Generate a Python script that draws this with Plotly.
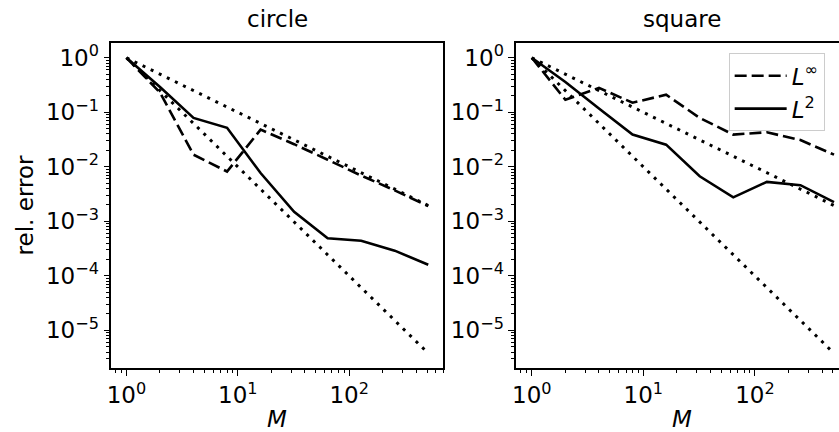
import plotly.graph_objects as go

M = [1, 2, 4, 8, 16, 32, 64, 128, 256, 512]
circle_Linf = [1, 0.23, 0.0167, 0.0082, 0.048, 0.026, 0.0135, 0.0069, 0.0037, 0.0019]
circle_L2 = [1, 0.29, 0.079, 0.052, 0.0077, 0.0015, 0.00049, 0.00044, 0.00029, 0.00016]
square_Linf = [1, 0.17, 0.28, 0.15, 0.21, 0.079, 0.039, 0.043, 0.031, 0.0167]
square_L2 = [1, 0.36, 0.117, 0.039, 0.0255, 0.0067, 0.00275, 0.0053, 0.0046, 0.00225]
ref_order1 = [1, 0.5, 0.25, 0.125, 0.0625, 0.03125, 0.0156, 0.0078, 0.0039, 0.00195]
ref_order2 = [1, 0.25, 0.0625, 0.0156, 0.0039, 0.00098, 0.00024, 6.1e-5, 1.5e-5, 3.8e-6]

x_tickvals = [1, 10, 100]
x_ticktext = ["10<sup>0</sup>", "10<sup>1</sup>", "10<sup>2</sup>"]
y_tickvals = [1, 1e-1, 1e-2, 1e-3, 1e-4, 1e-5]
y_ticktext = ["10<sup>0</sup>", "10<sup>\u22121</sup>", "10<sup>\u22122</sup>",
              "10<sup>\u22123</sup>", "10<sup>\u22124</sup>", "10<sup>\u22125</sup>"]
panel_titles = ["circle", "square"]
series_names = ["<i>L</i><sup>\u221e</sup>", "<i>L</i><sup>2</sup>"]

FONT = "DejaVu Sans"
FS = 23
W, H = 839, 432
TOP, BOT = 43, 368

fig = go.Figure()

panels = [(circle_Linf, circle_L2, "x", "y", False), (square_Linf, square_L2, "x2", "y2", True)]
for linf, l2, xa, ya, show in panels:
    for ref in (ref_order1, ref_order2):
        fig.add_trace(go.Scatter(x=M, y=ref, mode="lines", xaxis=xa, yaxis=ya,
                                 line=dict(color="black", width=3, dash="3px,6px"),
                                 showlegend=False, hoverinfo="skip"))
    fig.add_trace(go.Scatter(x=M, y=linf, mode="lines", xaxis=xa, yaxis=ya, name=series_names[0],
                             line=dict(color="black", width=2.6, dash="12px,5px"), showlegend=show))
    fig.add_trace(go.Scatter(x=M, y=l2, mode="lines", xaxis=xa, yaxis=ya, name=series_names[1],
                             line=dict(color="black", width=2.6), showlegend=show))

minor_x = [m * 10 ** e for e in range(-1, 3) for m in range(2, 10)]
minor_y = [m * 10.0 ** e for e in range(-6, 1) for m in range(2, 10)]

common_x = dict(type="log", tickmode="array", tickvals=x_tickvals, ticktext=x_ticktext,
                showgrid=False, zeroline=False, showline=True, linecolor="black", linewidth=1.5,
                ticks="outside", ticklen=6, tickwidth=1.3, tickcolor="black",
                tickfont=dict(family=FONT, size=FS, color="black"),
                minor=dict(tickmode="array", tickvals=minor_x, ticks="outside", ticklen=3.5,
                           tickwidth=1, tickcolor="black", showgrid=False))
common_y = dict(type="log", tickmode="array", tickvals=y_tickvals, ticktext=y_ticktext,
                range=[-5.69, 0.271],
                showgrid=False, zeroline=False, showline=True, linecolor="black", linewidth=1.5,
                ticks="outside", ticklen=6, tickwidth=1.3, tickcolor="black",
                tickfont=dict(family=FONT, size=FS, color="black"),
                minor=dict(tickmode="array", tickvals=minor_y, ticks="outside", ticklen=3.5,
                           tickwidth=1, tickcolor="black", showgrid=False))

x1d = [107 / W, 441 / W]
x2d = [514.3 / W, 1.0]

fig.update_layout(
    width=W, height=H,
    margin=dict(l=0, r=0, t=TOP, b=H - BOT),
    plot_bgcolor="white", paper_bgcolor="white",
    font=dict(family=FONT, size=FS, color="black"),
    xaxis=dict(common_x, domain=x1d, range=[-0.1355, 2.845], mirror=True, anchor="y"),
    yaxis=dict(common_y, domain=[0, 1], mirror=True, anchor="x"),
    xaxis2=dict(common_x, domain=x2d, range=[-0.1395, 2.754], mirror=True, anchor="y2"),
    yaxis2=dict(common_y, domain=[0, 1], mirror=False, anchor="x2"),
    legend=dict(x=728 / W, y=(BOT - 53.3) / (BOT - TOP), xanchor="left", yanchor="top",
                bgcolor="rgba(255,255,255,0.8)", bordercolor="#cccccc", borderwidth=1,
                itemwidth=52,
                font=dict(family=FONT, size=FS, color="black")),
    showlegend=True,
)

def py(px):
    return (BOT - px) / (BOT - TOP)

annots = [
    dict(text=panel_titles[0], x=274 / W, y=py(19), xref="paper", yref="paper",
         xanchor="center", yanchor="middle", showarrow=False, font=dict(size=FS)),
    dict(text=panel_titles[1], x=681 / W, y=py(19), xref="paper", yref="paper",
         xanchor="center", yanchor="middle", showarrow=False, font=dict(size=FS)),
    dict(text="<i>M</i>", x=274 / W, y=py(419), xref="paper", yref="paper",
         xanchor="center", yanchor="middle", showarrow=False, font=dict(size=FS)),
    dict(text="<i>M</i>", x=681 / W, y=py(419), xref="paper", yref="paper",
         xanchor="center", yanchor="middle", showarrow=False, font=dict(size=FS)),
    dict(text="rel. error", x=20 / W, y=py(205.5), xref="paper", yref="paper",
         xanchor="center", yanchor="middle", textangle=-90, showarrow=False, font=dict(size=FS)),
]
fig.update_layout(annotations=annots)

fig.write_html("out.html", config={"displayModeBar": False},
               post_script="document.body.style.margin='0px';document.body.style.overflow='hidden';")
